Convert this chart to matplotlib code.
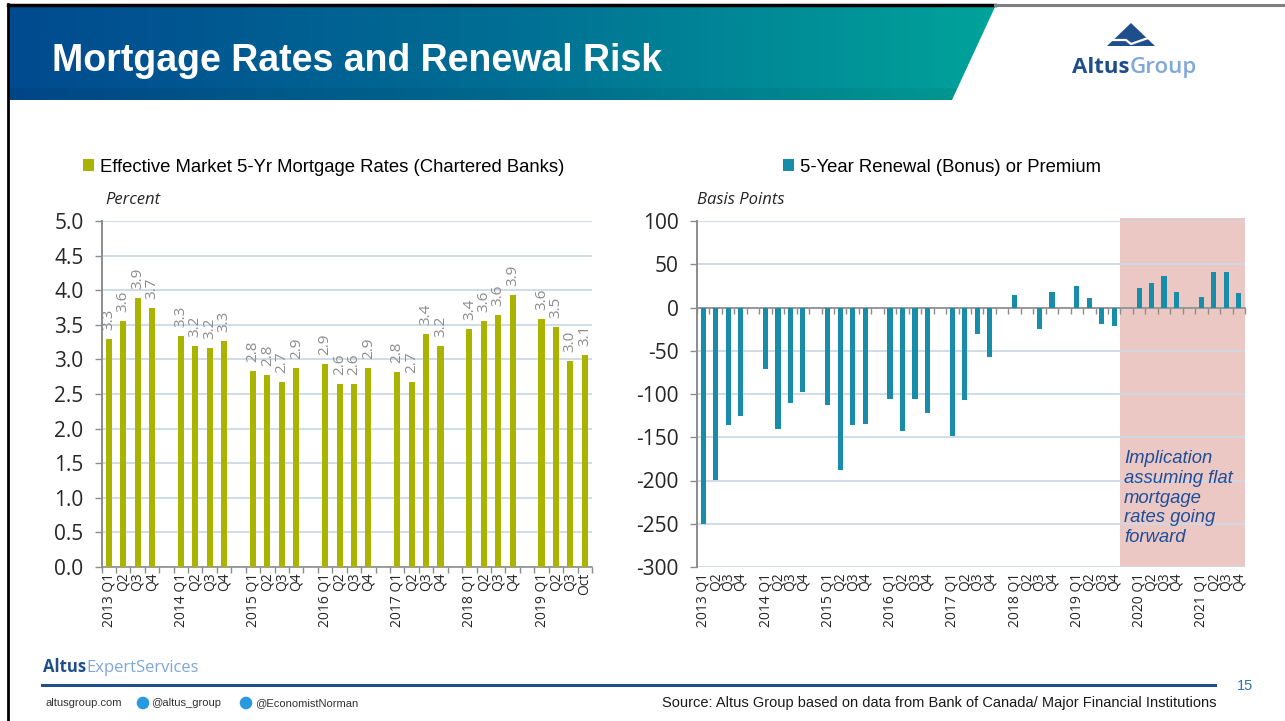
import numpy as np
import matplotlib.pyplot as plt
from matplotlib.patches import Polygon, Circle
from matplotlib.colors import LinearSegmentedColormap

plt.rcParams['axes.unicode_minus'] = False

W, H = 1285, 721

# --- left chart: effective 5-yr mortgage rate (percent)
rate_years = ['2013', '2014', '2015', '2016', '2017', '2018', '2019']
rate_quarters = ['Q1', 'Q2', 'Q3', 'Q4']
rate_last_quarters = ['Q1', 'Q2', 'Q3', 'Oct']
rates = [3.29, 3.56, 3.89, 3.74,
         3.34, 3.19, 3.16, 3.26,
         2.83, 2.77, 2.68, 2.87,
         2.93, 2.64, 2.64, 2.88,
         2.82, 2.67, 3.36, 3.19,
         3.44, 3.56, 3.64, 3.93,
         3.59, 3.47, 2.97, 3.06]

# --- right chart: 5-year renewal bonus / premium (basis points)
prem_years = ['2013', '2014', '2015', '2016', '2017', '2018', '2019', '2020', '2021']
premium = [-250, -199, -136, -125,
           -71, -141, -110, -98,
           -113, -188, -136, -135,
           -106, -143, -106, -122,
           -148, -107, -31, -57,
           15, 0, -25, 18,
           25, 11, -19, -21,
           23, 28, 36, 18,
           12, 41, 41, 17]
forecast_year = '2020'

OLIVE = '#A9B300'
TEAL = '#178DAA'
GRID = '#CCD9E6'
AXIS = '#8C8C8C'
DARK_BLUE = '#1F4E8C'
LIGHT_BLUE = '#7FA7D9'


def layout(years, quarter_sets):
    # 4 quarters per year, one empty slot between years
    pos, labs = [], []
    for g, (yr, qs) in enumerate(zip(years, quarter_sets)):
        for q, ql in enumerate(qs):
            pos.append(g * 5 + q)
            labs.append(f'{yr} {ql}' if q == 0 else ql)
    return np.array(pos), labs, len(years) * 5 - 1


fig = plt.figure(figsize=(W / 100, H / 100), dpi=100)

# background / slide decoration axes in pixel coords
bg = fig.add_axes([0, 0, 1, 1], zorder=0)
bg.set_xlim(0, W)
bg.set_ylim(H, 0)
bg.axis('off')

cmap = LinearSegmentedColormap.from_list('hdr', ['#004A8F', '#006E94', '#00A39A'])
grad = np.linspace(0, 1, 256).reshape(1, -1)
im = bg.imshow(grad, cmap=cmap, extent=(9, 995, 100, 7), aspect='auto', zorder=1)
hdr = Polygon([(9, 7), (995, 7), (952, 100), (9, 100)], closed=True, transform=bg.transData)
im.set_clip_path(hdr)
bg.add_patch(Polygon([(9, 88), (957, 88), (952, 100), (9, 100)], closed=True,
                     color='black', alpha=0.05, lw=0, zorder=2))
bg.plot([8, 995], [5, 5], color='black', lw=2.5, zorder=3)
bg.plot([995, W], [5, 5], color='#7F7F7F', lw=2.2, zorder=3)
bg.plot([8, 8], [4, H], color='black', lw=2, zorder=3)

bg.text(52, 61, 'Mortgage Rates and Renewal Risk', color='white', fontsize=27,
        fontweight='bold', family='Liberation Sans', va='center', zorder=4)

# logo
bg.add_patch(Polygon([(1131, 23), (1107, 46), (1155, 46)], closed=True, color=DARK_BLUE, lw=0, zorder=4))
bg.plot([1110, 1126, 1131, 1151], [40, 40, 44, 37], color='white', lw=1.6, zorder=5)
renderer = fig.canvas.get_renderer()


def two_tone(x, y, a, b, size, weight_b='normal'):
    t = bg.text(x, y, a, color=DARK_BLUE, fontsize=size, fontweight='bold',
                family='Open Sans', va='baseline', zorder=4)
    bb = t.get_window_extent(renderer=renderer)
    bg.text(bb.x1, y, b, color=LIGHT_BLUE, fontsize=size, fontweight=weight_b,
            family='Open Sans', va='baseline', zorder=4)


two_tone(1072, 73, 'Altus', 'Group', 16, 'semibold')
two_tone(43, 672, 'Altus', 'ExpertServices', 12)

# footer
bg.plot([42, 1215], [685, 685], color=DARK_BLUE, lw=2.2)
bg.text(1237, 686, '15', color='#2E75B6', fontsize=10.5, family='Liberation Sans', va='center')
bg.text(45, 703, 'altusgroup.com', fontsize=8, color='#333333', family='Liberation Sans', va='center')
bg.add_patch(Circle((143, 703), 6.3, color='#2A9AE0', lw=0))
bg.text(151, 703, '@altus_group', fontsize=8, color='#333333', family='Liberation Sans', va='center')
bg.add_patch(Circle((246, 703), 6.3, color='#2A9AE0', lw=0))
bg.text(255, 703, '@EconomistNorman', fontsize=8, color='#333333', family='Liberation Sans', va='center')
bg.text(1217, 703, 'Source: Altus Group based on data from Bank of Canada/ Major Financial Institutions',
        fontsize=10.5, color='#1A1A1A', family='Liberation Sans', va='center', ha='right')

bg.text(105, 200, 'Percent', fontsize=12, style='italic', family='Open Sans', color='#262626', va='center')
bg.text(697, 200, 'Basis Points', fontsize=12, style='italic', family='Open Sans', color='#262626', va='center')


def style_axes(ax, n_slots):
    ax.set_facecolor('none')
    ax.set_xlim(-0.5, n_slots - 0.5)
    for s in ['top', 'right']:
        ax.spines[s].set_visible(False)
    ax.spines['left'].set_color(AXIS)
    ax.spines['left'].set_linewidth(1.4)
    ax.spines['bottom'].set_color(AXIS)
    ax.spines['bottom'].set_linewidth(1.2)
    ax.yaxis.grid(True, color=GRID, lw=1.3)
    ax.set_axisbelow(True)
    ax.tick_params(axis='y', length=5, width=1, color=AXIS, pad=8,
                   labelsize=15, labelcolor='#262626')
    for t in ax.get_yticklabels():
        t.set_family('Open Sans')
    ax.set_xticks(np.arange(n_slots + 1) - 0.5, minor=True)
    ax.tick_params(axis='x', which='minor', length=4, width=1, color=AXIS)


# ---------- left chart
posL, labL, nL = layout(rate_years, [rate_quarters] * (len(rate_years) - 1) + [rate_last_quarters])
axL = fig.add_axes([101.5 / W, 1 - 567 / H, 490.5 / W, 346 / H], zorder=2)
axL.bar(posL, rates, width=0.42, color=OLIVE, zorder=3,
        label='Effective Market 5-Yr Mortgage Rates (Chartered Banks)')
axL.set_ylim(0, 5)
yt = np.arange(0, 5.01, 0.5)
axL.set_yticks(yt, [f'{v:.1f}' for v in yt])
style_axes(axL, nL)
axL.set_xticks(posL, labL, rotation=90, fontsize=10, family='Open Sans', color='#262626')
axL.tick_params(axis='x', which='major', length=0, pad=4)
for p, v in zip(posL, rates):
    axL.annotate(f'{v:.1f}', xy=(p, v), xytext=(0, 6.5), textcoords='offset points',
                 rotation=90, ha='center', va='bottom', fontsize=11,
                 family='Open Sans', color='#8C8C8C')
axL.legend(loc='center left', bbox_to_anchor=(83 / W, 1 - 167 / H), bbox_transform=fig.transFigure,
           frameon=False, borderpad=0, borderaxespad=0, handlelength=0.6, handleheight=0.6,
           handletextpad=0.3, prop={'family': 'Liberation Sans', 'size': 13.3})

# ---------- right chart
posR, labR, nR = layout(prem_years, [rate_quarters] * len(prem_years))
axR = fig.add_axes([697 / W, 1 - 567 / H, 548 / W, 346 / H], zorder=2)
fstart = prem_years.index(forecast_year) * 5 - 1.5
axR.axvspan(fstart, nR - 0.5, ymin=0, ymax=1.01, color='#ECC8C5', lw=0, zorder=0, clip_on=False)
axR.bar(posR, premium, width=0.42, color=TEAL, zorder=3, label='5-Year Renewal (Bonus) or Premium')
axR.set_ylim(-300, 100)
ytR = np.arange(-300, 101, 50)
axR.set_yticks(ytR, [str(v) for v in ytR])
style_axes(axR, nR)
axR.spines['bottom'].set_position(('data', 0))
axR.set_xticks([])
axR.tick_params(axis='x', which='minor', length=4, width=1, color=AXIS)
sec = axR.secondary_xaxis('bottom')
sec.set_xticks(posR, labR, rotation=90, fontsize=10, family='Open Sans', color='#262626')
sec.tick_params(axis='x', length=0, pad=4)
sec.spines['bottom'].set_visible(False)
axR.annotate('Implication\nassuming flat\nmortgage\nrates going\nforward', xy=(fstart, 0.337),
             xycoords=('data', 'axes fraction'), xytext=(2.5, 0), textcoords='offset points',
             ha='left', va='top', fontsize=13.3, style='italic', family='Liberation Sans',
             color='#1F4E99', linespacing=1.2)
axR.legend(loc='center left', bbox_to_anchor=(783 / W, 1 - 167 / H), bbox_transform=fig.transFigure,
           frameon=False, borderpad=0, borderaxespad=0, handlelength=0.6, handleheight=0.6,
           handletextpad=0.3, prop={'family': 'Liberation Sans', 'size': 13.3})

fig.savefig('out.png', dpi=100)
